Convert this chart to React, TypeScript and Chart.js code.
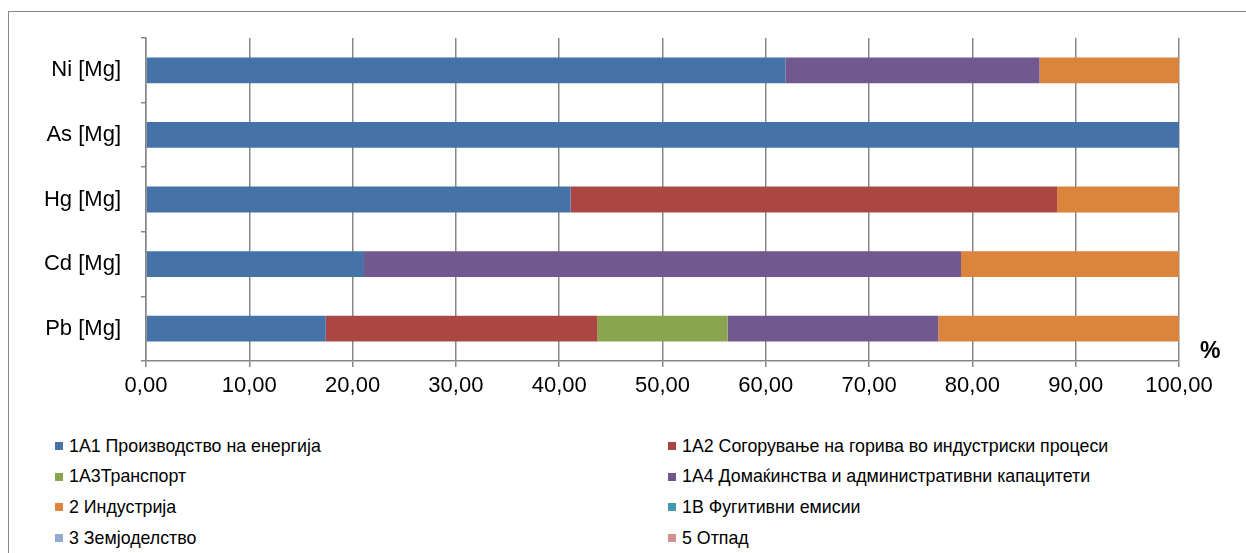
import React, { useEffect, useRef } from "react";
import { Chart, registerables } from "chart.js";

Chart.register(...registerables);

const categories = ["Ni [Mg]", "As [Mg]", "Hg [Mg]", "Cd [Mg]", "Pb [Mg]"];
const seriesNames = [
  "1A1 Производство на енергија",
  "1A2 Согорување на горива во индустриски процеси",
  "1A3Транспорт",
  "1A4 Домаќинства и административни капацитети",
  "2 Индустрија",
  "1B Фугитивни емисии",
  "3 Земјоделство",
  "5 Отпад",
];
const s1A1 = [61.9, 100, 41.1, 21.1, 17.4];
const s1A2 = [0, 0, 47.1, 0, 26.3];
const s1A3 = [0, 0, 0, 0, 12.6];
const s1A4 = [24.6, 0, 0, 57.8, 20.4];
const s2 = [13.5, 0, 11.8, 21.1, 23.3];
const s1B = [0, 0, 0, 0, 0];
const s3 = [0, 0, 0, 0, 0];
const s5 = [0, 0, 0, 0, 0];
const seriesValues = [s1A1, s1A2, s1A3, s1A4, s2, s1B, s3, s5];
const colors = ["#4572A7", "#AA4643", "#89A54E", "#71588F", "#DB843D", "#4198AF", "#93A9CF", "#D19392"];
const xTicks = [0, 10, 20, 30, 40, 50, 60, 70, 80, 90, 100];

const FONT = "'Liberation Sans', Arial, Helvetica, sans-serif";

export default function App() {
  const ref = useRef<HTMLCanvasElement | null>(null);
  useEffect(() => {
    if (!ref.current) return;
    const chart = new Chart(ref.current, {
      type: "bar",
      data: {
        labels: categories,
        datasets: seriesNames.map((n, i) => ({
          label: n,
          data: seriesValues[i],
          backgroundColor: colors[i],
          borderWidth: 0,
          barPercentage: 0.4,
          categoryPercentage: 1,
        })),
      },
      options: {
        indexAxis: "y",
        animation: false,
        responsive: false,
        maintainAspectRatio: false,
        layout: { padding: { top: 38, right: 67, left: 0, bottom: 0 } },
        plugins: { legend: { display: false }, tooltip: { enabled: false } },
        scales: {
          x: {
            stacked: true,
            min: 0,
            max: 100,
            afterFit: (s: any) => { s.height = 49; },
            afterBuildTicks: (s: any) => { s.ticks = xTicks.map((v) => ({ value: v })); },
            ticks: {
              color: "#000",
              font: { family: FONT, size: 22 },
              padding: 6,
              maxRotation: 0,
              callback: (v: any) => Number(v).toFixed(2).replace(".", ","),
            },
            grid: { color: "#878787", lineWidth: 1.5, tickLength: 6, drawTicks: true },
            border: { color: "#878787", width: 1.5 },
          },
          y: {
            stacked: true,
            afterFit: (s: any) => { s.width = 146; },
            ticks: { color: "#000", font: { family: FONT, size: 22 }, padding: 20 },
            grid: { offset: true, drawOnChartArea: false, color: "#878787", lineWidth: 1.5, tickLength: 5 },
            border: { color: "#878787", width: 1.5 },
          },
        },
      },
    });
    return () => chart.destroy();
  }, []);

  const legendRows = [
    [0, 1],
    [2, 3],
    [4, 5],
    [6, 7],
  ];
  return (
    <div style={{ position: "absolute", left: 0, top: 0, width: 1246, height: 553, overflow: "hidden", background: "#fff" }}>
      <div style={{ position: "absolute", left: 8, top: 11, width: 1300, height: 600, borderTop: "1.5px solid #888", borderLeft: "1.5px solid #888" }} />
      <canvas ref={ref} width={1246} height={410} style={{ position: "absolute", left: 0, top: 0, width: 1246, height: 410 }} />
      <div style={{ position: "absolute", left: 1200, top: 337, fontFamily: FONT, fontWeight: "bold", fontSize: 23, color: "#000" }}>%</div>
      {legendRows.map((row, r) =>
        row.map((idx, c) => (
          <div
            key={idx}
            style={{
              position: "absolute",
              left: c === 0 ? 55 : 668,
              top: 446 + r * 30.7 - 12,
              height: 24,
              display: "flex",
              alignItems: "center",
              fontFamily: FONT,
              fontSize: 17.8,
              color: "#000",
              whiteSpace: "nowrap",
            }}
          >
            <span style={{ display: "inline-block", width: 8, height: 8, background: colors[idx], marginRight: 6 }} />
            <span>{seriesNames[idx]}</span>
          </div>
        ))
      )}
    </div>
  );
}
